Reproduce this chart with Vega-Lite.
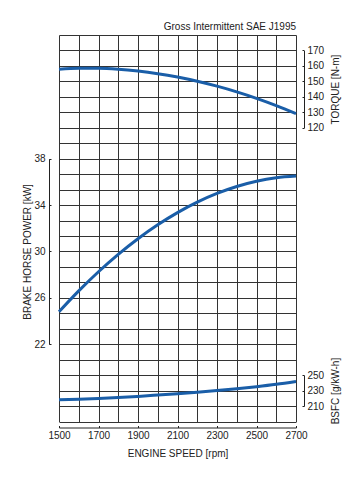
{
  "$schema": "https://vega.github.io/schema/vega-lite/v6.json",
  "autosize": "none",
  "width": 237,
  "height": 386.5,
  "padding": {"left": 59, "top": 35, "right": 60, "bottom": 78.5},
  "background": "white",
  "title": {"text": "Gross Intermittent SAE J1995", "anchor": "end", "frame": "group", "fontSize": 10, "fontWeight": "normal", "color": "#222", "font": "Liberation Sans", "baseline": "alphabetic", "offset": -5},
  "data": {"values": [
    {"rpm": 1500, "torque": 157.9, "power": 24.8, "bsfc": 218.2},
    {"rpm": 1600, "torque": 158.5, "power": 26.6, "bsfc": 218.9},
    {"rpm": 1700, "torque": 158.5, "power": 28.25, "bsfc": 219.8},
    {"rpm": 1800, "torque": 157.9, "power": 29.75, "bsfc": 221.0},
    {"rpm": 1900, "torque": 156.7, "power": 31.1, "bsfc": 222.5},
    {"rpm": 2000, "torque": 155.0, "power": 32.3, "bsfc": 224.2},
    {"rpm": 2100, "torque": 152.8, "power": 33.35, "bsfc": 226.0},
    {"rpm": 2200, "torque": 150.1, "power": 34.25, "bsfc": 227.9},
    {"rpm": 2300, "torque": 146.9, "power": 35.0, "bsfc": 230.0},
    {"rpm": 2400, "torque": 143.2, "power": 35.6, "bsfc": 232.3},
    {"rpm": 2500, "torque": 139.0, "power": 36.05, "bsfc": 235.0},
    {"rpm": 2600, "torque": 134.3, "power": 36.35, "bsfc": 238.1},
    {"rpm": 2700, "torque": 129.1, "power": 36.5, "bsfc": 241.8}
  ]},
  "encoding": {
    "x": {"field": "rpm", "type": "quantitative",
      "scale": {"domain": [1500, 2700], "nice": false, "zero": false},
      "axis": {
        "values": [1500, 1600, 1700, 1800, 1900, 2000, 2100, 2200, 2300, 2400, 2500, 2600, 2700],
        "format": "d",
        "grid": true,
        "labelExpr": "datum.value % 200 == 100 ? datum.label : ''",
        "tickOpacity": {"condition": {"test": "datum.value % 200 == 100", "value": 1}, "value": 0},
        "tickSize": -2,
        "offset": 6,
        "labelPadding": 5,
        "title": "ENGINE SPEED [rpm]",
        "titlePadding": 8
      }
    }
  },
  "layer": [
    {
      "mark": {"type": "line", "opacity": 0},
      "encoding": {
        "y": {"field": "torque", "type": "quantitative",
          "scale": {"domain": [-70, 180], "nice": false, "zero": false},
          "axis": {"orient": "left", "values": [-70, -60, -50, -40, -30, -20, -10, 0, 10, 20, 30, 40, 50, 60, 70, 80, 90, 100, 110, 120, 130, 140, 150, 160, 170, 180],
            "grid": true, "labels": false, "ticks": false, "domain": false, "title": null}
        }
      }
    },
    {
      "mark": {"type": "line", "color": "#1a5ea8", "strokeWidth": 3, "interpolate": "monotone"},
      "encoding": {
        "y": {"field": "power", "type": "quantitative",
          "scale": {"domain": [22, 38], "range": [309.2, 123.68], "nice": false, "zero": false},
          "axis": {"orient": "left", "values": [22, 26, 30, 34, 38], "grid": false, "offset": 10, "tickSize": -2, "labelPadding": 6,
            "title": "BRAKE HORSE POWER [kW]", "titlePadding": 1}
        }
      }
    },
    {
      "mark": {"type": "line", "color": "#1a5ea8", "strokeWidth": 3, "interpolate": "monotone"},
      "encoding": {
        "y": {"field": "torque", "type": "quantitative",
          "scale": {"domain": [120, 170], "range": [92.76, 15.46], "nice": false, "zero": false},
          "axis": {"orient": "right", "values": [120, 130, 140, 150, 160, 170], "grid": false, "offset": 8, "tickSize": -2, "labelPadding": 5,
            "title": "TORQUE [N-m]", "titleAngle": 270, "titleBaseline": "top", "titlePadding": 7}
        }
      }
    },
    {
      "mark": {"type": "line", "color": "#1a5ea8", "strokeWidth": 3, "interpolate": "monotone"},
      "encoding": {
        "y": {"field": "bsfc", "type": "quantitative",
          "scale": {"domain": [210, 250], "range": [371.04, 340.12], "nice": false, "zero": false},
          "axis": {"orient": "right", "values": [210, 230, 250], "grid": false, "offset": 8, "tickSize": -2, "labelPadding": 5,
            "title": "BSFC [g/kW-h]", "titleAngle": 270, "titleBaseline": "top", "titlePadding": 7}
        }
      }
    }
  ],
  "resolve": {"scale": {"y": "independent"}, "axis": {"y": "independent"}},
  "config": {
    "font": "Liberation Sans",
    "view": {"stroke": null},
    "axis": {
      "labelFont": "Liberation Sans", "titleFont": "Liberation Sans",
      "labelFontSize": 10, "titleFontSize": 10, "titleFontWeight": "normal",
      "labelColor": "#222", "titleColor": "#222",
      "domainColor": "#222", "tickColor": "#222", "domainWidth": 1, "tickWidth": 1,
      "gridColor": "#333", "gridWidth": 1, "gridOpacity": 1,
      "labelFlush": false, "labelOverlap": false
    }
  }
}
